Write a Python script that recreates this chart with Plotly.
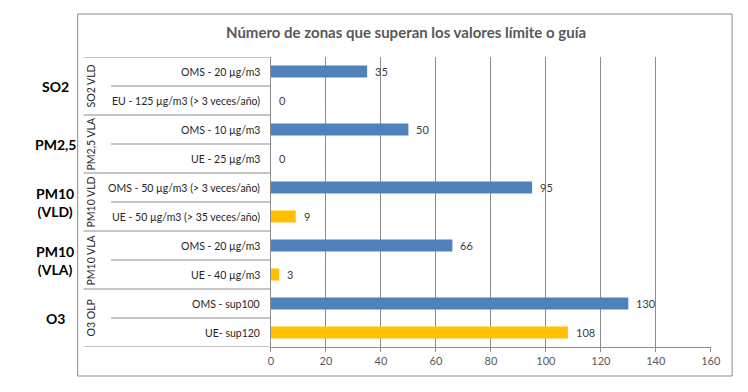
import plotly.graph_objects as go

# ---- data ----
groups = ["SO2 VLD", "SO2 VLD", "PM2,5 VLA", "PM2,5 VLA", "PM10 VLD", "PM10 VLD",
          "PM10 VLA", "PM10 VLA", "O3 OLP", "O3 OLP"]
labels = ["OMS - 20 µg/m3", "EU - 125 µg/m3 (> 3 veces/año)",
          "OMS - 10 µg/m3", "UE - 25 µg/m3",
          "OMS - 50 µg/m3 (> 3 veces/año)", "UE - 50 µg/m3 (> 35 veces/año)",
          "OMS - 20 µg/m3", "UE - 40 µg/m3",
          "OMS - sup100", "UE- sup120"]
values = [35, 0, 50, 0, 95, 9, 66, 3, 130, 108]
series = ["OMS", "UE", "OMS", "UE", "OMS", "UE", "OMS", "UE", "OMS", "UE"]
group_names = ["SO2 VLD", "PM2,5 VLA", "PM10 VLD", "PM10 VLA", "O3 OLP"]
outer_labels = ["SO2", "PM2,5", "PM10<br>(VLD)", "PM10<br>(VLA)", "O3"]
x_ticks = [0, 20, 40, 60, 80, 100, 120, 140, 160]
title = "Número de zonas que superan los valores límite o guía"

# ---- style ----
W, H = 748, 392
FONT = "Lato, 'Open Sans', sans-serif"
colors = {"OMS": "#4F81BD", "UE": "#FFC000"}
LINE = "#8C8C8C"

def px(x):
    return x / W

def py(y):
    return (H - y) / H

keys = [f"{g}|{l}|{i}" for i, (g, l) in enumerate(zip(groups, labels))]
n = len(keys)

fig = go.Figure()
fig.add_trace(go.Bar(
    x=values, y=keys, orientation="h",
    marker=dict(color=[colors[s] for s in series], line=dict(width=0)),
    width=0.42, hoverinfo="skip", showlegend=False,
))

x0_dom, x1_dom = px(272.7), px(720.3)
fig.update_layout(
    width=W, height=H,
    margin=dict(l=0, r=0, t=0, b=0, pad=0),
    paper_bgcolor="white", plot_bgcolor="white",
    font=dict(family=FONT, size=11, color="#404040"),
    showlegend=False,
    xaxis=dict(domain=[x0_dom, x1_dom], range=[0, 160], tickvals=x_ticks,
               showgrid=True, gridcolor=LINE, gridwidth=1, zeroline=False,
               showline=True, linecolor=LINE, linewidth=1,
               ticks="outside", ticklen=4, tickcolor=LINE,
               tickfont=dict(size=11, color="#595959", family=FONT), fixedrange=True),
    yaxis=dict(domain=[py(347), py(57)], type="category", categoryarray=keys,
               range=[n - 0.5, -0.5], showticklabels=False, showgrid=False,
               zeroline=False, showline=True, linecolor=LINE, linewidth=1,
               ticks="", fixedrange=True),
)

shapes = []
# chart border
shapes.append(dict(type="rect", xref="paper", yref="paper",
                   x0=px(76), x1=px(742), y0=py(376), y1=py(14),
                   line=dict(color=LINE, width=1)))
# category separators
for b in range(n + 1):
    start = 82 if b % 2 == 0 else 110
    shapes.append(dict(type="line", xref="paper", yref="y",
                       x0=px(start), x1=x0_dom, y0=b - 0.5, y1=b - 0.5,
                       line=dict(color=LINE, width=1)))
fig.update_layout(shapes=shapes)

ann = []
ann.append(dict(text=title, xref="paper", yref="paper", x=px(410), y=py(32),
                xanchor="center", yanchor="middle", showarrow=False,
                font=dict(family=FONT, size=15, color="#595959", weight="bold")))
# inner category labels
for k, l in zip(keys, labels):
    ann.append(dict(text=l, xref="paper", yref="y", x=px(264), y=k,
                    xanchor="right", yanchor="middle", showarrow=False,
                    font=dict(family=FONT, size=10.5, color="#262626")))
# value labels
for k, v in zip(keys, values):
    ann.append(dict(text=str(v), xref="x", yref="y", x=v, y=k, xshift=6,
                    xanchor="left", yanchor="middle", showarrow=False,
                    font=dict(family=FONT, size=11, color="#404040")))
# group labels (rotated) and outer labels
for gi, (g, o) in enumerate(zip(group_names, outer_labels)):
    rows = [i for i, gg in enumerate(groups) if gg == g]
    yc = sum(rows) / len(rows)
    ann.append(dict(text=g, xref="paper", yref="y", x=px(90), y=yc,
                    textangle=-90, xanchor="center", yanchor="middle", showarrow=False,
                    font=dict(family=FONT, size=10.5, color="#262626")))
    ann.append(dict(text=o, xref="paper", yref="y", x=px(53), y=yc,
                    xanchor="center", yanchor="middle", align="center", showarrow=False,
                    font=dict(family=FONT, size=14, color="#000000", weight="bold")))
fig.update_layout(annotations=ann)

fig.write_html("out.html", config={"displayModeBar": False, "staticPlot": True},
               post_script="document.body.style.margin='0';document.body.style.overflow='hidden';")
